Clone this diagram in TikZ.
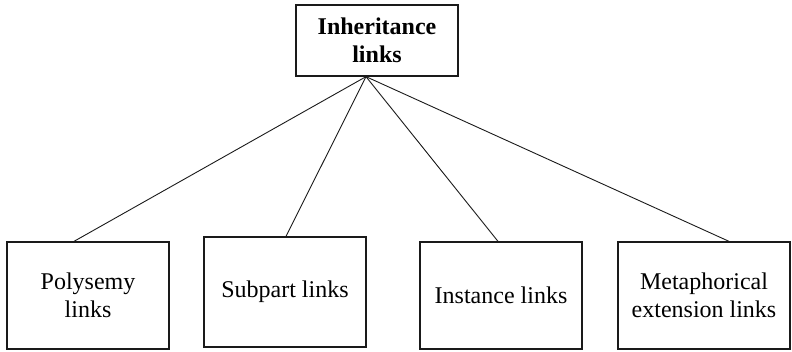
\documentclass[tikz,border=0pt]{standalone}
\usepackage{fontspec}
\setmainfont{Liberation Serif}
\usetikzlibrary{positioning}
\definecolor{cline}{HTML}{1A1A1A}
\tikzset{
  every picture/.style={font=\fontsize{24}{28}\selectfont, line width=0.9pt},
  box/.style={draw=cline, line width=1.3pt, align=center, inner sep=4pt, minimum width=162pt, minimum height=107pt},
  link/.style={draw=cline, line width=0.9pt},
}
\begin{document}
\begin{tikzpicture}[x=1pt, y=-1pt]
  \useasboundingbox (0,0) rectangle (792,351);
  % root
  \node[box, minimum height=71pt, font=\fontsize{24}{28}\selectfont\bfseries] (inherit) at (377,40.5) {Inheritance\\links};
  \coordinate (hub) at ([xshift=-11pt]inherit.south);
  % the four kinds
  \node[box] (poly) at (88,295.5) {Polysemy\\links};
  \node[box, minimum height=110pt] (subpart) at (285,292) {Subpart links};
  \node[box] (instance) at (501,295.5) {Instance links};
  \node[box, minimum width=172pt] (meta) at (704,295.5) {Metaphorical\\extension links};
  \draw[link] (hub) -- ([xshift=-14pt]poly.north);
  \draw[link] (hub) -- ([xshift=1pt]subpart.north);
  \draw[link] (hub) -- ([xshift=-3pt]instance.north);
  \draw[link] (hub) -- ([xshift=25pt]meta.north);
\end{tikzpicture}
\end{document}
